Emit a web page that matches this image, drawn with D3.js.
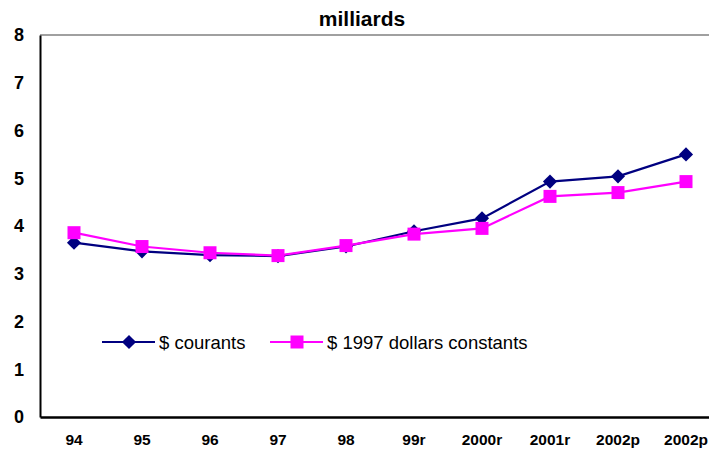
<!DOCTYPE html>
<html>
<head>
<meta charset="utf-8">
<script src="https://cdn.jsdelivr.net/npm/d3@7"></script>
<style>
  body { margin: 0; background: #fff; }
  svg { display: block; font-family: "Liberation Sans", Arial, sans-serif; }
</style>
</head>
<body>
<div id="chart"></div>
<script>
// DATA
const categories = ['94', '95', '96', '97', '98', '99r', '2000r', '2001r', '2002p', '2002p '];
const courants = [3.65, 3.47, 3.39, 3.37, 3.57, 3.89, 4.16, 4.93, 5.04, 5.50];
const constants = [3.86, 3.57, 3.44, 3.38, 3.59, 3.83, 3.95, 4.62, 4.70, 4.93];
const yTicks = [0, 1, 2, 3, 4, 5, 6, 7, 8];
const seriesNames = ['$ courants', '$ 1997 dollars constants'];

const width = 709, height = 449;
const margin = { top: 35, left: 40, bottom: 32 };

const svg = d3.select('#chart')
  .append('svg')
  .attr('width', width)
  .attr('height', height);

const x = d3.scaleBand()
  .domain(categories)
  .range([margin.left, 720]);

const y = d3.scaleLinear()
  .domain([0, 8])
  .range([height - margin.bottom, margin.top]);

// title
svg.append('text')
  .attr('x', 362)
  .attr('y', 26)
  .attr('text-anchor', 'middle')
  .style('font-weight', 'bold')
  .style('font-size', '21px')
  .text('milliards');

// top border
svg.append('line')
  .attr('x1', margin.left).attr('x2', width)
  .attr('y1', y(8)).attr('y2', y(8))
  .attr('stroke', '#808080')
  .attr('stroke-width', 1.5);

// y axis
const yAxis = svg.append('g')
  .attr('transform', `translate(${margin.left},0)`)
  .call(d3.axisLeft(y).tickValues(yTicks).tickSize(0).tickPadding(16).tickFormat(d3.format('d')));
yAxis.select('.domain').attr('stroke', '#000').attr('stroke-width', 2);
yAxis.selectAll('text')
  .style('font-size', '18px')
  .style('font-weight', 'bold')
  .attr('fill', '#000');

// x axis
const xAxis = svg.append('g')
  .attr('transform', `translate(0,${y(0)})`)
  .call(d3.axisBottom(x).tickSize(0).tickPadding(17).tickFormat(d => d.trim()));
xAxis.select('.domain').attr('stroke', '#000').attr('stroke-width', 2.5);
xAxis.selectAll('text')
  .style('font-size', '15.5px')
  .style('font-weight', 'bold')
  .attr('fill', '#000');

const cx = d => x(d) + x.bandwidth() / 2;

const line = d3.line()
  .x(d => cx(d.cat))
  .y(d => y(d.v));

const toPts = vals => categories.map((c, i) => ({ cat: c, v: vals[i] }));

const diamond = d3.symbol().type(d3.symbolSquare).size(100)();
const square = d3.symbol().type(d3.symbolSquare).size(169)();

// series: courants
svg.append('path')
  .datum(toPts(courants))
  .attr('d', line)
  .attr('fill', 'none')
  .attr('stroke', '#000080')
  .attr('stroke-width', 2.2);

svg.selectAll('.dia')
  .data(toPts(courants))
  .join('path')
  .attr('class', 'dia')
  .attr('d', diamond)
  .attr('transform', d => `translate(${cx(d.cat)},${y(d.v)}) rotate(45)`)
  .attr('fill', '#000080');

// series: constants
svg.append('path')
  .datum(toPts(constants))
  .attr('d', line)
  .attr('fill', 'none')
  .attr('stroke', '#ff00ff')
  .attr('stroke-width', 2.2);

svg.selectAll('.sq')
  .data(toPts(constants))
  .join('path')
  .attr('class', 'sq')
  .attr('d', square)
  .attr('transform', d => `translate(${cx(d.cat)},${y(d.v)})`)
  .attr('fill', '#ff00ff');

// legend
const legend = svg.append('g').attr('transform', 'translate(0,342)');
const items = [
  { name: seriesNames[0], color: '#000080', shape: diamond, rot: 45, x0: 102 },
  { name: seriesNames[1], color: '#ff00ff', shape: square, rot: 0, x0: 270 }
];
items.forEach(it => {
  legend.append('line')
    .attr('x1', it.x0).attr('x2', it.x0 + 53)
    .attr('y1', 0).attr('y2', 0)
    .attr('stroke', it.color)
    .attr('stroke-width', 2.2);
  legend.append('path')
    .attr('d', it.shape)
    .attr('transform', `translate(${it.x0 + 27},0) rotate(${it.rot})`)
    .attr('fill', it.color);
  legend.append('text')
    .attr('x', it.x0 + 57)
    .attr('y', 7)
    .style('font-size', '18.5px')
    .text(it.name);
});
</script>
</body>
</html>
